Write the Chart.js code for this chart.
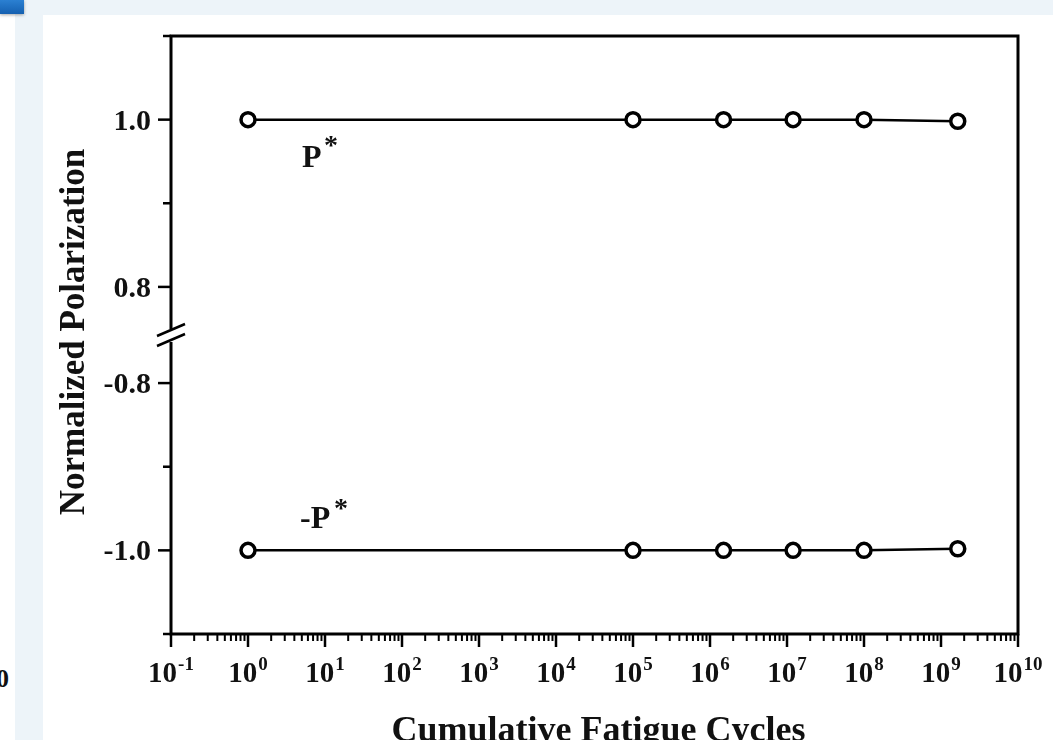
<!DOCTYPE html>
<html>
<head>
<meta charset="utf-8">
<script src="https://cdn.jsdelivr.net/npm/chart.js@4.4.1/dist/chart.umd.min.js"></script>
<style>
html, body { margin: 0; padding: 0; width: 1053px; height: 740px; overflow: hidden; background: #fff; }
#frame { position: absolute; left: 15px; top: 0; width: 1038px; height: 740px; background: #edf4f9; }
#tab { position: absolute; left: 0; top: 0; width: 24px; height: 14px; background: linear-gradient(#2b80d2, #1560b0); box-shadow: 0 1px 3px rgba(0,0,0,.35); }
#stray { position: absolute; left: -4px; top: 664px; font: bold 26px "Liberation Serif"; color: #111; }
#box { position: absolute; left: 43px; top: 15px; width: 1010px; height: 725px; background: #fff; }
</style>
</head>
<body>
<div id="frame"></div>
<div id="tab"></div>
<div id="stray">0</div>
<div id="box"><canvas id="chart" width="1010" height="725"></canvas></div>
<script>
// values
const cycles = [1, 1e5, 1.5e6, 1.2e7, 1e8, 1.65e9];
const posPol = [1.0, 1.0, 1.0, 1.0, 1.0, 0.998];
const negPol = [-1.0, -1.0, -1.0, -1.0, -1.0, -0.998];

// tick labels
const xExponents = [-1, 0, 1, 2, 3, 4, 5, 6, 7, 8, 9, 10];
const topTicks = [1.1, 1.0, 0.9, 0.8];
const topLabels = ["", "1.0", "", "0.8"];
const bottomTicks = [-0.8, -0.9, -1.0, -1.1];
const bottomLabels = ["-0.8", "", "-1.0", ""];

const xTitle = "Cumulative Fatigue Cycles";
const yTitle = "Normalized Polarization";

// the y axis is broken between 0.8 and -0.8
const breakTop = 0.7425, breakBottom = -0.7425;

const serif = '"Liberation Serif", "Times New Roman", serif';

const brokenAxes = {
    id: 'brokenAxes',
    afterDraw(chart) {
        const { ctx, chartArea: a, scales } = chart;
        const x = scales.x, yT = scales.yTop, yB = scales.yBot;
        const brk = yT.getPixelForValue(breakTop);
        ctx.save();
        ctx.strokeStyle = '#000';
        ctx.fillStyle = '#111';
        ctx.lineWidth = 3;

        // frame, with a gap in the left axis at the break
        ctx.beginPath();
        ctx.moveTo(a.left, brk - 6);
        ctx.lineTo(a.left, a.top);
        ctx.lineTo(a.right, a.top);
        ctx.lineTo(a.right, a.bottom);
        ctx.lineTo(a.left, a.bottom);
        ctx.lineTo(a.left, brk + 7);
        ctx.stroke();

        // break marks
        ctx.lineWidth = 2.5;
        [-5, 5].forEach(d => {
            ctx.beginPath();
            ctx.moveTo(a.left - 14, brk + d + 6);
            ctx.lineTo(a.left + 14, brk + d - 6);
            ctx.stroke();
        });

        // y ticks and labels
        ctx.font = 'bold 30px ' + serif;
        ctx.textAlign = 'right';
        ctx.textBaseline = 'alphabetic';
        const yTicks = (scale, vals, labels) => {
            vals.forEach((v, i) => {
                const py = scale.getPixelForValue(v);
                const len = labels[i] ? 13 : 8;
                ctx.beginPath();
                ctx.moveTo(a.left - len, py);
                ctx.lineTo(a.left, py);
                ctx.stroke();
                if (labels[i]) ctx.fillText(labels[i], a.left - 20, py + 10);
            });
        };
        yTicks(yT, topTicks, topLabels);
        yTicks(yB, bottomTicks, bottomLabels);

        // x ticks (decades + minor) and 10^n labels
        xExponents.forEach(e => {
            const px = x.getPixelForValue(Math.pow(10, e));
            ctx.lineWidth = 2.5;
            ctx.beginPath();
            ctx.moveTo(px, a.bottom);
            ctx.lineTo(px, a.bottom + 13);
            ctx.stroke();
            if (e < 10) {
                ctx.lineWidth = 2;
                for (let m = 2; m <= 9; m++) {
                    const mx = x.getPixelForValue(m * Math.pow(10, e));
                    ctx.beginPath();
                    ctx.moveTo(mx, a.bottom);
                    ctx.lineTo(mx, a.bottom + 7);
                    ctx.stroke();
                }
            }
            ctx.textAlign = 'left';
            ctx.font = 'bold 29px ' + serif;
            const wBase = ctx.measureText('10').width;
            ctx.font = 'bold 19px ' + serif;
            const exp = String(e);
            const wExp = ctx.measureText(exp).width;
            const left = px - (wBase + wExp + 1) / 2;
            ctx.font = 'bold 29px ' + serif;
            ctx.fillText('10', left, a.bottom + 48);
            ctx.font = 'bold 19px ' + serif;
            ctx.fillText(exp, left + wBase + 1, a.bottom + 36);
        });

        // curve labels
        ctx.textAlign = 'left';
        ctx.font = 'bold 32px ' + serif;
        ctx.fillText('P', 259, 152);
        ctx.fillText('-P', 257, 513);
        ctx.font = 'bold 28px ' + serif;
        ctx.fillText('*', 281, 139);
        ctx.fillText('*', 291, 502);

        // axis titles
        ctx.textAlign = 'center';
        ctx.font = 'bold 36px ' + serif;
        ctx.fillText(xTitle, (a.left + a.right) / 2 + 4, 726);
        ctx.save();
        ctx.translate(41, (a.top + a.bottom) / 2 - 3);
        ctx.rotate(-Math.PI / 2);
        ctx.font = 'bold 35px ' + serif;
        ctx.fillText(yTitle, 0, 0);
        ctx.restore();

        ctx.restore();
    }
};

const series = (vals, axis) => ({
    data: cycles.map((c, i) => ({ x: c, y: vals[i] })),
    yAxisID: axis,
    borderColor: '#000',
    borderWidth: 2.5,
    pointRadius: 7,
    pointBorderWidth: 3.5,
    pointBackgroundColor: '#fff',
    pointBorderColor: '#000',
    tension: 0,
    clip: false
});

new Chart(document.getElementById('chart'), {
    type: 'line',
    data: {
        datasets: [series(posPol, 'yTop'), series(negPol, 'yBot')]
    },
    options: {
        responsive: false,
        animation: false,
        layout: { padding: { left: 128, right: 35, top: 21, bottom: 106 } },
        plugins: { legend: { display: false }, tooltip: { enabled: false } },
        scales: {
            x: { type: 'logarithmic', min: 0.1, max: 1e10, display: false },
            // each half of the broken axis spans the full height, only its own half is used
            yTop: { type: 'linear', min: 1.1 - 2 * (1.1 - breakTop), max: 1.1, display: false },
            yBot: { type: 'linear', min: -1.1, max: -1.1 + 2 * (breakBottom + 1.1), display: false }
        }
    },
    plugins: [brokenAxes]
});
</script>
</body>
</html>
